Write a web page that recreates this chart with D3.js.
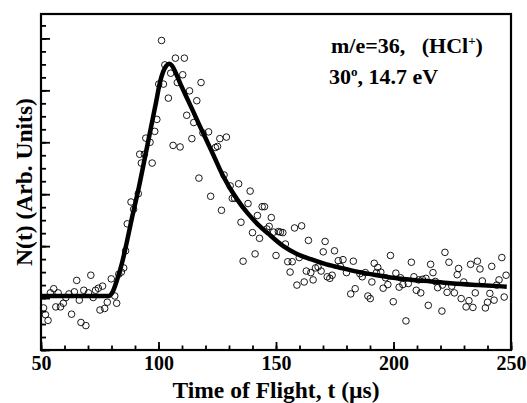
<!DOCTYPE html>
<html>
<head>
<meta charset="utf-8">
<script src="https://cdn.jsdelivr.net/npm/d3@7/dist/d3.min.js"></script>
<style>
  body { margin: 0; background: #fff; }
  svg text { font-family: "Liberation Serif", "Times New Roman", serif; font-weight: bold; fill: #000; }
</style>
</head>
<body>
<div id="chart"></div>
<script>
const tofUs = [
  51.1, 51.9, 53.0, 54.0, 55.4, 56.3, 57.3, 58.3, 59.5, 60.6,
  61.9, 63.0, 64.2, 65.2, 66.3, 67.0, 68.2, 69.1, 70.2, 71.2,
  72.2, 73.2, 74.4, 75.1, 76.2, 77.1, 78.2, 79.9, 81.4, 82.2,
  83.1, 84.2, 85.2, 86.0, 86.7, 88.3, 89.4, 91.4, 92.0, 92.7,
  94.0, 94.6, 96.4, 97.3, 98.4, 99.3, 100.1, 101.3, 102.1, 102.7,
  104.2, 105.2, 106.2, 107.2, 108.0, 109.2, 110.3, 111.0, 112.0, 113.2,
  114.2, 115.0, 116.3, 117.2, 118.1, 118.9, 121.3, 122.2, 124.2, 125.1,
  126.1, 126.8, 127.9, 128.9, 130.5, 131.4, 132.4, 134.1, 135.1, 136.0,
  138.1, 139.0, 140.0, 141.1, 142.1, 143.0, 144.1, 145.1, 146.1, 147.1,
  148.0, 149.0, 150.0, 151.0, 151.9, 152.9, 154.0, 155.0, 156.0, 156.9,
  157.9, 158.9, 159.9, 160.9, 162.0, 162.9, 163.8, 164.8, 165.8, 166.8,
  167.9, 169.2, 170.1, 170.9, 171.8, 172.9, 173.9, 174.9, 176.5, 177.4,
  178.5, 180.0, 181.8, 182.9, 183.7, 185.7, 186.7, 188.0, 189.1, 190.1,
  190.8, 191.8, 192.7, 193.3, 194.6, 195.6, 196.6, 197.6, 198.7, 199.9,
  201.0, 202.4, 203.0, 204.0, 205.3, 206.3, 207.6, 208.7, 209.7, 210.7,
  211.6, 212.3, 213.8, 214.8, 215.8, 216.8, 217.8, 218.8, 220.8, 221.9,
  222.8, 223.6, 224.8, 225.9, 227.1, 227.7, 228.8, 229.9, 230.9, 232.1,
  232.8, 233.8, 234.8, 235.7, 236.8, 237.8, 239.1, 240.0, 241.0, 241.8,
  242.8, 243.9, 244.9, 246.1, 247.1, 247.9, 220.6
];
const counts = [
  81, 68, 57, 110, 118, 83, 110, 83, 90, 101,
  108, 69, 112, 134, 96, 53, 115, 47, 110, 144,
  101, 115, 119, 77, 123, 80, 92, 137, 104, 90,
  146, 150, 158, 191, 243, 285, 271, 301, 377, 360,
  377, 408, 400, 360, 421, 444, 512, 596, 512, 549,
  485, 533, 394, 562, 515, 391, 530, 562, 452, 499,
  407, 438, 480, 331, 515, 418, 420, 296, 390, 392,
  407, 269, 337, 410, 316, 292, 292, 320, 246, 171,
  282, 306, 226, 185, 259, 215, 276, 276, 233, 238,
  255, 227, 182, 228, 227, 226, 204, 170, 150, 170,
  235, 125, 178, 239, 131, 152, 211, 149, 135, 158,
  160, 152, 189, 209, 141, 138, 144, 191, 172, 161,
  174, 149, 108, 171, 118, 147, 141, 149, 104, 99,
  131, 167, 149, 159, 150, 119, 139, 126, 182, 93,
  148, 121, 139, 126, 56, 128, 169, 141, 115, 135,
  110, 136, 138, 86, 165, 149, 132, 120, 125, 188,
  111, 169, 123, 110, 145, 157, 99, 131, 83, 95,
  165, 82, 110, 171, 156, 133, 81, 92, 109, 161,
  96, 125, 135, 178, 102, 144, 75
];

// fitted curve, sampled off the figure
const fitT = [50, 78.8, 80.5, 82.5, 84.5, 86.0, 88.5, 91.4, 95.7, 99.0,
  100.6, 102.0, 103.3, 104.6, 105.8, 107.2, 109.1, 111.3, 114.8, 117.3,
  119.8, 123.3, 127.6, 133.3, 138.0, 142.5, 146.7, 153.1, 158.5, 164.8,
  171.5, 178.8, 185.5, 192.9, 200.0, 208.2, 216.0, 225.4, 236.0, 248.2];
const fitN = [104, 104, 112, 137, 168, 197, 250, 308, 404, 478,
  515, 536, 547, 551, 547, 535, 515, 493, 459, 434,
  410, 376, 334, 291, 263, 241, 224, 200, 186, 175,
  165, 157, 150, 144, 139, 135, 132, 128, 125, 122];

const xTickLabels = [50, 100, 150, 200, 250];
const xMinorTicks = d3.range(50, 251, 10);
const yMajorTicks = d3.range(0, 601, 100);
const yMinorTicks = d3.range(0, 647, 25);

const width = 527, height = 403;
const margin = {top: 14, right: 16, bottom: 53, left: 41};

const svg = d3.select('#chart').append('svg')
  .attr('width', width)
  .attr('height', height);

const x = d3.scaleLinear().domain([50, 250]).range([margin.left, width - margin.right]);
const y = d3.scaleLinear().domain([0, 647]).range([height - margin.bottom, margin.top]);

// minor ticks first, then major ones on top
svg.append('g')
  .attr('transform', `translate(0,${height - margin.bottom})`)
  .call(d3.axisBottom(x).tickValues(xMinorTicks).tickSize(-4.5).tickFormat(''))
  .call(g => g.select('.domain').remove());

svg.append('g')
  .attr('transform', `translate(0,${height - margin.bottom})`)
  .call(d3.axisBottom(x).tickValues(xTickLabels).tickSize(-8).tickPadding(6))
  .call(g => g.select('.domain').remove())
  .call(g => g.selectAll('text').attr('font-size', 20).attr('font-family', null));

svg.append('g')
  .attr('transform', `translate(${margin.left},0)`)
  .call(d3.axisLeft(y).tickValues(yMinorTicks).tickSize(-5).tickFormat(''))
  .call(g => g.select('.domain').remove());

svg.append('g')
  .attr('transform', `translate(${margin.left},0)`)
  .call(d3.axisLeft(y).tickValues(yMajorTicks).tickSize(-9).tickFormat(''))
  .call(g => g.select('.domain').remove());

svg.selectAll('.tick line').attr('stroke', '#000').attr('stroke-width', 1.8);

svg.append('rect')
  .attr('x', margin.left)
  .attr('y', margin.top)
  .attr('width', width - margin.left - margin.right)
  .attr('height', height - margin.top - margin.bottom)
  .attr('fill', 'none')
  .attr('stroke', '#000')
  .attr('stroke-width', 2.2);

// data points
svg.append('g').selectAll('circle')
  .data(d3.zip(tofUs, counts))
  .enter()
  .append('circle')
  .attr('cx', d => x(d[0]))
  .attr('cy', d => y(d[1]))
  .attr('r', 3.3)
  .attr('fill', 'none')
  .attr('stroke', '#000')
  .attr('stroke-width', 0.9);

// fit
const line = d3.line()
  .x(d => x(d[0]))
  .y(d => y(d[1]))
  .curve(d3.curveMonotoneX);

svg.append('path')
  .datum(d3.zip(fitT, fitN))
  .attr('d', line)
  .attr('fill', 'none')
  .attr('stroke', '#000')
  .attr('stroke-width', 4.5)
  .attr('stroke-linejoin', 'round');

// titles
svg.append('text')
  .attr('x', (margin.left + width - margin.right) / 2)
  .attr('y', 398)
  .attr('text-anchor', 'middle')
  .attr('font-size', 23.5)
  .text('Time of Flight, t (\u00b5s)');

svg.append('text')
  .attr('transform', `translate(32,${(margin.top + height - margin.bottom) / 2}) rotate(-90)`)
  .attr('text-anchor', 'middle')
  .attr('font-size', 23.5)
  .text('N(t) (Arb. Units)');

// annotation
const note1 = svg.append('text')
  .attr('x', 331).attr('y', 53)
  .attr('font-size', 22)
  .attr('xml:space', 'preserve');
note1.append('tspan').text('m/e=36,   (HCl');
note1.append('tspan').attr('font-size', 13).attr('dy', -8).text('+');
note1.append('tspan').attr('dy', 8).text(')');

const note2 = svg.append('text')
  .attr('x', 329).attr('y', 84)
  .attr('font-size', 22);
note2.append('tspan').text('30');
note2.append('tspan').attr('font-size', 13).attr('dy', -8).text('o');
note2.append('tspan').attr('dy', 8).text(', 14.7 eV');
</script>
</body>
</html>
